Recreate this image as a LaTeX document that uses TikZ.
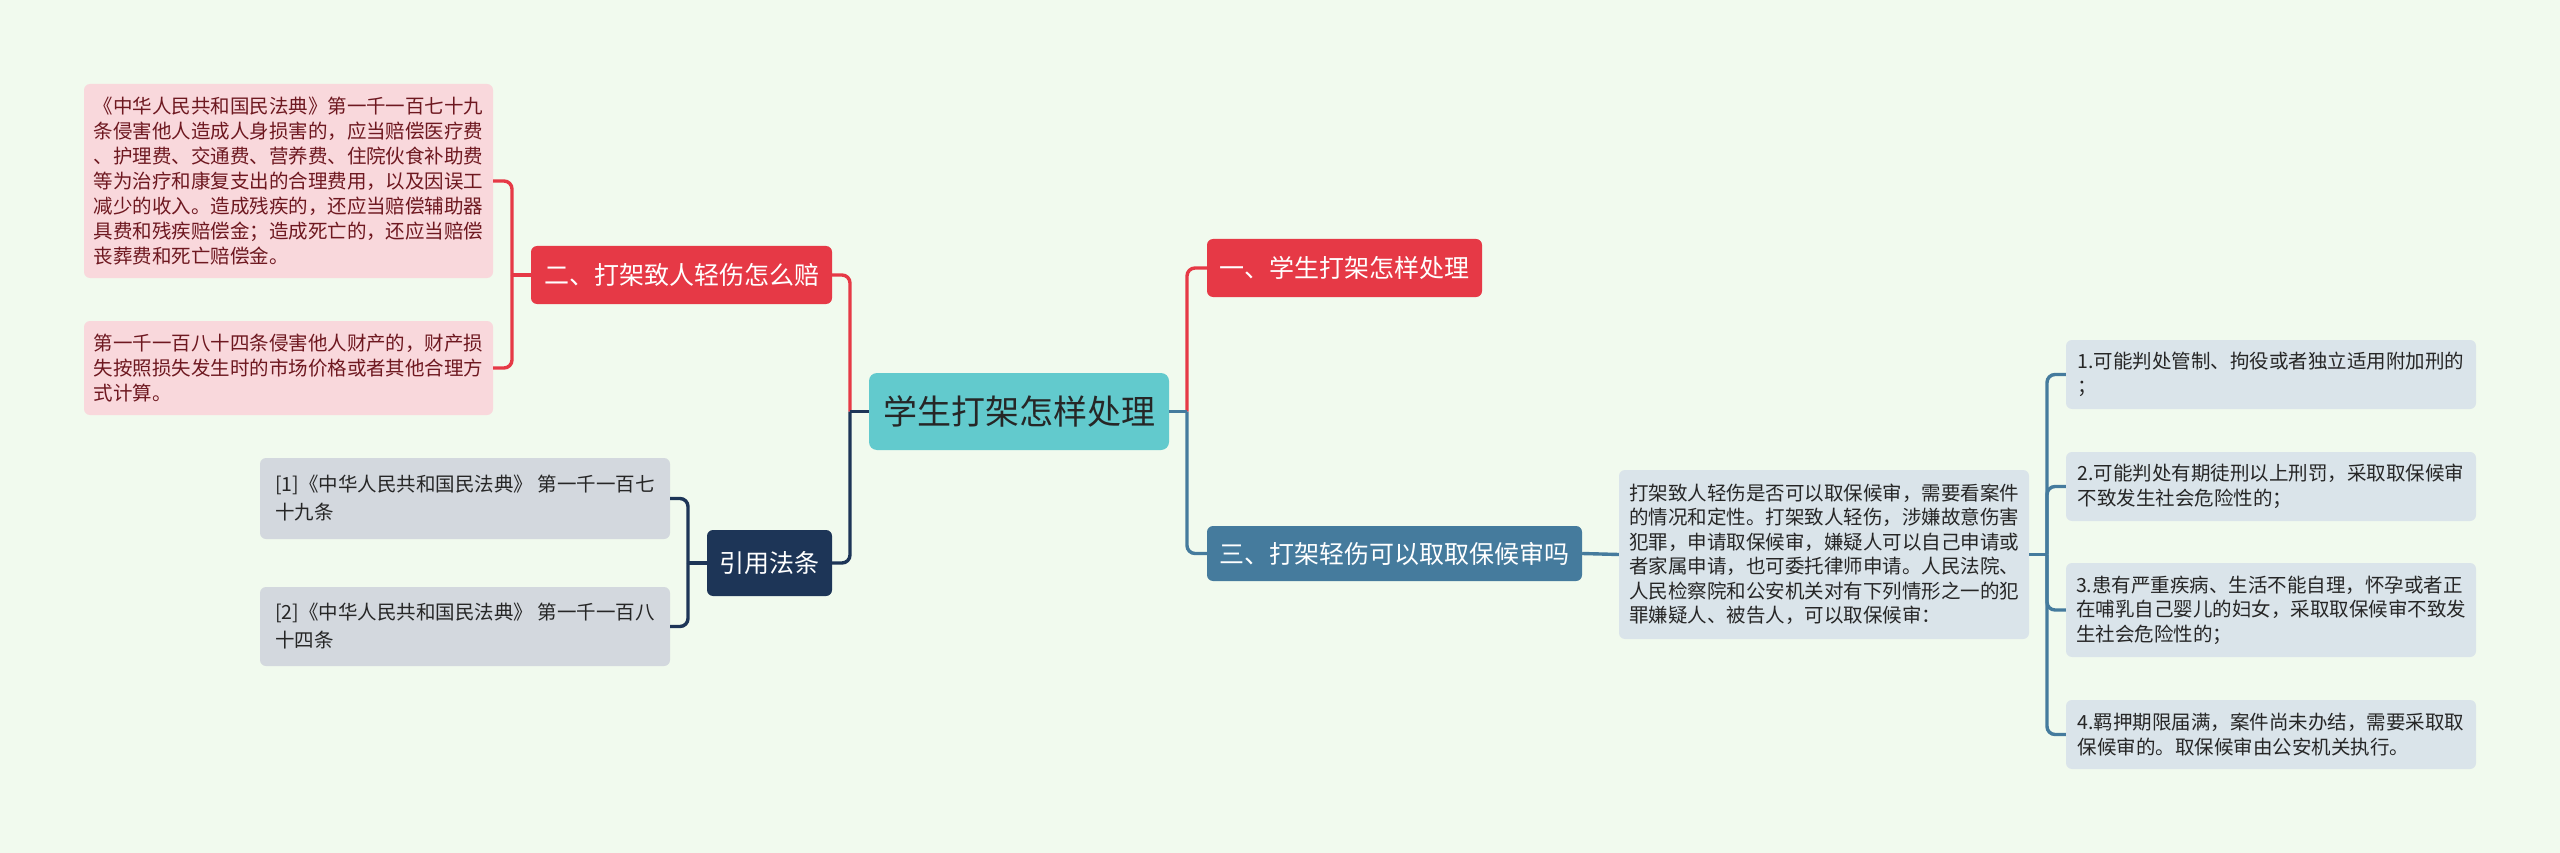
\documentclass[tikz,border=0pt]{standalone}
\usepackage{fontspec}
\setmainfont{Noto Sans CJK SC}
\definecolor{bg}{HTML}{F1FAEE}
\definecolor{cred}{HTML}{E63946}
\definecolor{cblue}{HTML}{457B9D}
\definecolor{cnavy}{HTML}{1D3557}
\definecolor{cteal}{HTML}{62CACD}
\definecolor{pinkfill}{HTML}{F9D8DC}
\definecolor{pinktext}{HTML}{6E1820}
\definecolor{grayfill}{HTML}{D3D8DE}
\definecolor{bluefill}{HTML}{DAE4EA}
\definecolor{darktext}{HTML}{262626}
\tikzset{
  box/.style={rounded corners=6pt, inner sep=0pt, align=left, anchor=center},
  centerbox/.style={box, fill=cteal, text=darktext, font=\fontsize{34}{40}\selectfont, rounded corners=8pt},
  branchbox/.style={box, text=white, font=\fontsize{25}{30}\selectfont},
  leafpink/.style={box, fill=pinkfill, text=pinktext, font=\fontsize{19.5}{25}\selectfont},
  leafgray/.style={box, fill=grayfill, text=darktext, font=\fontsize{19.5}{28}\selectfont},
  leafblue/.style={box, fill=bluefill, text=darktext, font=\fontsize{19.5}{24.5}\selectfont},
  wire/.style={line width=3.4pt},
  conn/.style={wire, rounded corners=8pt}
}
\begin{document}
\begin{tikzpicture}[x=1pt,y=-1pt]
\fill[bg] (0,0) rectangle (2560,853);
\useasboundingbox (0,0) rectangle (2560,853);

% nodes
\node[centerbox, minimum width=300pt, minimum height=77pt] (c) at (1019,411.5) {学生打架怎样处理};
\node[branchbox, fill=cred, minimum width=275pt, minimum height=58pt] (n1) at (1344.5,268) {一、学生打架怎样处理};
\node[branchbox, fill=cblue, minimum width=375pt, minimum height=55pt] (n3) at (1394.5,553.5) {三、打架轻伤可以取取保候审吗};
\node[branchbox, fill=cred, minimum width=301pt, minimum height=58pt] (n2) at (681.5,275) {二、打架致人轻伤怎么赔};
\node[branchbox, fill=cnavy, minimum width=125pt, minimum height=66pt] (cite) at (769.5,563) {引用法条};

\node[leafpink, minimum width=409pt, minimum height=194pt] (p1) at (288.5,181) {《中华人民共和国民法典》第一千一百七十九\\条侵害他人造成人身损害的，应当赔偿医疗费\\、护理费、交通费、营养费、住院伙食补助费\\等为治疗和康复支出的合理费用，以及因误工\\减少的收入。造成残疾的，还应当赔偿辅助器\\具费和残疾赔偿金；造成死亡的，还应当赔偿\\丧葬费和死亡赔偿金。};
\node[leafpink, minimum width=409pt, minimum height=94pt] (p2) at (288.5,368) {第一千一百八十四条侵害他人财产的，财产损\\失按照损失发生时的市场价格或者其他合理方\\式计算。};

\node[leafgray, minimum width=410pt, minimum height=81pt] (r1) at (465,498.5) {[1]《中华人民共和国民法典》 第一千一百七\\十九条};
\node[leafgray, minimum width=410pt, minimum height=79pt] (r2) at (465,626.5) {[2]《中华人民共和国民法典》 第一千一百八\\十四条};

\node[leafblue, minimum width=410pt, minimum height=169pt] (big) at (1824,554.5) {打架致人轻伤是否可以取保候审，需要看案件\\的情况和定性。打架致人轻伤，涉嫌故意伤害\\犯罪，申请取保候审，嫌疑人可以自己申请或\\者家属申请，也可委托律师申请。人民法院、\\人民检察院和公安机关对有下列情形之一的犯\\罪嫌疑人、被告人，可以取保候审：};

\node[leafblue, minimum width=410pt, minimum height=69pt] (s1) at (2271,374.5) {1.可能判处管制、拘役或者独立适用附加刑的\\；};
\node[leafblue, minimum width=410pt, minimum height=69pt] (s2) at (2271,486.5) {2.可能判处有期徒刑以上刑罚，采取取保候审\\不致发生社会危险性的；};
\node[leafblue, minimum width=410pt, minimum height=94pt] (s3) at (2271,610) {3.患有严重疾病、生活不能自理，怀孕或者正\\在哺乳自己婴儿的妇女，采取取保候审不致发\\生社会危险性的；};
\node[leafblue, minimum width=410pt, minimum height=69pt] (s4) at (2271,734.5) {4.羁押期限届满，案件尚未办结，需要采取取\\保候审的。取保候审由公安机关执行。};

% junction coordinates
\coordinate (tl) at (850,411.5);
\coordinate (tr) at (1187,411.5);
\coordinate (jp) at (512,275);
\coordinate (jr) at (688,563);
\coordinate (jb) at (2047,554.5);

% center to branches (left)
\draw[conn, cred] (tl) |- (n2.east);
\draw[conn, cnavy] (tl) |- (cite.east);
\draw[wire, cnavy] (c.west) -- (tl);
% center to branches (right)
\draw[conn, cred] (tr) |- (n1.west);
\draw[conn, cblue] (tr) |- (n3.west);
\draw[wire, cblue] (c.east) -- (tr);

% pink leaves
\draw[wire, cred] (n2.west) -- (jp);
\draw[conn, cred] (jp) |- (p1.east);
\draw[conn, cred] (jp) |- (p2.east);

% references
\draw[wire, cnavy] (cite.west) -- (jr);
\draw[conn, cnavy] (jr) |- (r1.east);
\draw[conn, cnavy] (jr) |- (r2.east);

% third branch
\draw[wire, cblue] (n3.east) -- (big.west);
\draw[wire, cblue] (big.east) -- (jb);
\draw[conn, cblue] (jb) |- (s1.west);
\draw[conn, cblue] (jb) |- (s2.west);
\draw[conn, cblue] (jb) |- (s3.west);
\draw[conn, cblue] (jb) |- (s4.west);
\end{tikzpicture}
\end{document}
